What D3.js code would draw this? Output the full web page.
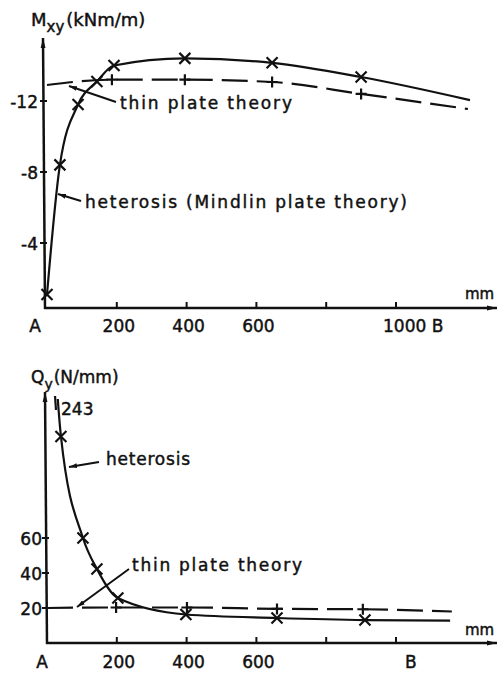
<!DOCTYPE html>
<html>
<head>
<meta charset="utf-8">
<script src="https://cdn.jsdelivr.net/npm/d3@7"></script>
<style>
  body { margin: 0; background: #fff; }
  svg { display: block; }
  text { font-family: "DejaVu Sans", sans-serif; fill: #111; stroke: #111; stroke-width: 0.45px; }
</style>
</head>
<body>
<svg id="chart" width="501" height="673"></svg>
<script>
// Positions along the span A–B (mm) and the computed quantities
const hetMxyX  = [0, 37, 89, 143, 192, 395, 645, 900, 1212];
const hetMxy   = [-1.1, -8.4, -11.8, -13.1, -14.0, -14.4, -14.15, -13.35, -12.05];
const thinMxyX = [0, 186, 395, 645, 900, 1206];
const thinMxy  = [-12.9, -13.2, -13.2, -13.07, -12.4, -11.55];

const hetQyX   = [0, 40, 103, 143, 203, 398, 659, 911, 1155];
const hetQy    = [243, 118, 60, 42.3, 25.7, 16.3, 14.3, 13.1, 12.8];
const thinQyX  = [0, 198, 401, 659, 905, 1160];
const thinQy   = [20, 20.3, 20.3, 19.5, 19.3, 18];

// Axis ticks and labels
const xTicks        = [200, 400, 600, 800, 1000];
const topXLabels    = [{v: 0, t: "A"}, {v: 200, t: "200"}, {v: 400, t: "400"}, {v: 600, t: "600"}];
const topEndLabel   = "1000 B";
const botXLabels    = [{v: 0, t: "A"}, {v: 200, t: "200"}, {v: 400, t: "400"}, {v: 600, t: "600"}];
const botEndLabel   = "B";
const mxyTicks      = [-12, -8, -4];
const qyTicks       = [20, 40, 60];
const qyPeakLabel   = "243";

const svg = d3.select("#chart");
const ink = "#111";

const x = d3.scaleLinear().domain([0, 1000]).range([47, 396]);
const yM = d3.scaleLinear().domain([0, -12]).range([314, 101]);
const yQ = d3.scaleLinear().domain([0, 60]).range([643, 538]);

// arrowheads
const defs = svg.append("defs");
defs.append("marker").attr("id", "axisArrow")
  .attr("viewBox", "0 0 10 6").attr("refX", 10).attr("refY", 3)
  .attr("markerWidth", 10).attr("markerHeight", 6).attr("markerUnits", "userSpaceOnUse")
  .attr("orient", "auto")
  .append("path").attr("d", "M0,0.6 L10,3 L0,5.4 Z").attr("fill", ink);
defs.append("marker").attr("id", "leadArrow")
  .attr("viewBox", "0 0 10 6").attr("refX", 0).attr("refY", 3)
  .attr("markerWidth", 8).attr("markerHeight", 5).attr("markerUnits", "userSpaceOnUse")
  .attr("orient", "auto")
  .append("path").attr("d", "M0,3 L10,0 L10,6 Z").attr("fill", ink);
defs.append("clipPath").attr("id", "qClip")
  .append("rect").attr("x", 40).attr("y", 399).attr("width", 460).attr("height", 260);

function crossMark(g, cx, cy, r) {
  g.append("path")
    .attr("d", `M${cx - r},${cy - r}L${cx + r},${cy + r}M${cx - r},${cy + r}L${cx + r},${cy - r}`)
    .attr("stroke", ink).attr("stroke-width", 2.2).attr("fill", "none");
}
function plusMark(g, cx, cy, r) {
  g.append("path")
    .attr("d", `M${cx - r},${cy}L${cx + r},${cy}M${cx},${cy - r}L${cx},${cy + r}`)
    .attr("stroke", ink).attr("stroke-width", 2.2).attr("fill", "none");
}

function drawPanel(opt) {
  const g = svg.append("g");
  const y = opt.y;
  // axes
  g.append("line").attr("x1", opt.x0).attr("y1", opt.base).attr("x2", 497).attr("y2", opt.base)
    .attr("stroke", ink).attr("stroke-width", 2.5).attr("marker-end", "url(#axisArrow)");
  g.append("line").attr("x1", opt.yAxisX + 1).attr("y1", opt.base + 1).attr("x2", opt.yAxisX - 1).attr("y2", opt.top)
    .attr("stroke", ink).attr("stroke-width", 2.5).attr("marker-end", "url(#axisArrow)");
  // x ticks
  xTicks.forEach(v => {
    g.append("line").attr("x1", x(v)).attr("x2", x(v)).attr("y1", opt.base).attr("y2", opt.base - 6)
      .attr("stroke", ink).attr("stroke-width", 2);
  });
  // y ticks
  opt.yTicks.forEach(v => {
    g.append("line").attr("x1", opt.yAxisX - 4).attr("x2", opt.yAxisX + 3).attr("y1", y(v)).attr("y2", y(v))
      .attr("stroke", ink).attr("stroke-width", 2);
    g.append("text").attr("x", opt.yLabelX).attr("y", y(v) + 6.5).attr("text-anchor", "end")
      .attr("font-size", 17).text(v);
  });
  // x labels
  opt.xLabels.forEach(d => {
    g.append("text").attr("x", d.v === 0 ? x(0) + opt.aShift : x(d.v) + 2).attr("y", opt.labelY)
      .attr("text-anchor", "middle").attr("font-size", 17).text(d.t);
  });
  g.append("text").attr("x", x(1000) + opt.endShift).attr("y", opt.labelY)
    .attr("font-size", 17).text(opt.endLabel);
  g.append("text").attr("x", 465).attr("y", opt.mmY).attr("font-size", 15)
    .attr("textLength", 29).attr("lengthAdjust", "spacing").text("mm");
  return g;
}

// ---------- Mxy panel ----------
const gM = drawPanel({y: yM, base: 308, top: 38, x0: 44, yAxisX: 44, yTicks: mxyTicks, yLabelX: 38,
  xLabels: topXLabels, labelY: 332, aShift: -12, endShift: -13, endLabel: topEndLabel, mmY: 299});

const line = (X, Y, ys) => d3.line().curve(d3.curveMonotoneX)
  .x((d, i) => x(X[i])).y((d, i) => ys(Y[i]));

gM.append("path").datum(thinMxy).attr("d", line(thinMxyX, thinMxy, yM))
  .attr("fill", "none").attr("stroke", ink).attr("stroke-width", 2.2).attr("stroke-dasharray", "26 9");
gM.append("path").datum(hetMxy).attr("d", line(hetMxyX, hetMxy, yM))
  .attr("fill", "none").attr("stroke", ink).attr("stroke-width", 2.2);
hetMxy.slice(0, -1).forEach((v, i) => crossMark(gM, x(hetMxyX[i]), yM(v), 5.5));
thinMxy.slice(1, -1).forEach((v, i) => plusMark(gM, x(thinMxyX[i + 1]), yM(v), 5.5));

// title
const tM = gM.append("text").attr("x", 31).attr("y", 26).attr("font-size", 18);
tM.append("tspan").text("M");
tM.append("tspan").attr("dy", 6).attr("font-size", 15).text("xy");
tM.append("tspan").attr("dy", -6).attr("dx", 2).text("(kNm/m)");

// annotations
gM.append("line").attr("x1", 69).attr("y1", 86).attr("x2", 116).attr("y2", 102)
  .attr("stroke", ink).attr("stroke-width", 2).attr("marker-start", "url(#leadArrow)");
gM.append("text").attr("x", 120).attr("y", 109).attr("font-size", 17)
  .attr("textLength", 172).attr("lengthAdjust", "spacing").text("thin plate theory");
gM.append("line").attr("x1", 58).attr("y1", 194).attr("x2", 81).attr("y2", 201)
  .attr("stroke", ink).attr("stroke-width", 2).attr("marker-start", "url(#leadArrow)");
gM.append("text").attr("x", 85).attr("y", 208).attr("font-size", 17)
  .attr("textLength", 322).attr("lengthAdjust", "spacing").text("heterosis (Mindlin plate theory)");

// ---------- Qy panel ----------
const gQ = drawPanel({y: yQ, base: 643, top: 392, x0: 46, yAxisX: 46, yTicks: qyTicks, yLabelX: 42,
  xLabels: botXLabels, labelY: 668, aShift: -5, endShift: 9, endLabel: botEndLabel, mmY: 635});

gQ.append("path").datum(thinQy).attr("d", line(thinQyX, thinQy, yQ))
  .attr("fill", "none").attr("stroke", ink).attr("stroke-width", 2.2).attr("stroke-dasharray", "26 9");
gQ.append("path").datum(hetQy).attr("d", line(hetQyX, hetQy, yQ))
  .attr("clip-path", "url(#qClip)")
  .attr("fill", "none").attr("stroke", ink).attr("stroke-width", 2.2);
hetQy.slice(1, -1).forEach((v, i) => crossMark(gQ, x(hetQyX[i + 1]), yQ(v), 5.5));
thinQy.slice(1, -1).forEach((v, i) => plusMark(gQ, x(thinQyX[i + 1]), yQ(v), 5.5));

// break mark where the curve leaves the frame, with the peak value
gQ.append("line").attr("x1", 55).attr("y1", 396).attr("x2", 56).attr("y2", 410)
  .attr("stroke", ink).attr("stroke-width", 2.2);
gQ.append("text").attr("x", 61).attr("y", 415).attr("font-size", 17).text(qyPeakLabel);

const tQ = gQ.append("text").attr("x", 31).attr("y", 383).attr("font-size", 17);
tQ.append("tspan").text("Q");
tQ.append("tspan").attr("dy", 6).attr("font-size", 14).text("y");
tQ.append("tspan").attr("dy", -6).attr("dx", 1).text("(N/mm)");

gQ.append("line").attr("x1", 69).attr("y1", 467).attr("x2", 99).attr("y2", 462)
  .attr("stroke", ink).attr("stroke-width", 2).attr("marker-start", "url(#leadArrow)");
gQ.append("text").attr("x", 106).attr("y", 465).attr("font-size", 17)
  .attr("textLength", 84).attr("lengthAdjust", "spacing").text("heterosis");
gQ.append("line").attr("x1", 77).attr("y1", 607).attr("x2", 129).attr("y2", 569)
  .attr("stroke", ink).attr("stroke-width", 2).attr("marker-start", "url(#leadArrow)");
gQ.append("text").attr("x", 132).attr("y", 571).attr("font-size", 17)
  .attr("textLength", 170).attr("lengthAdjust", "spacing").text("thin plate theory");
</script>
</body>
</html>
